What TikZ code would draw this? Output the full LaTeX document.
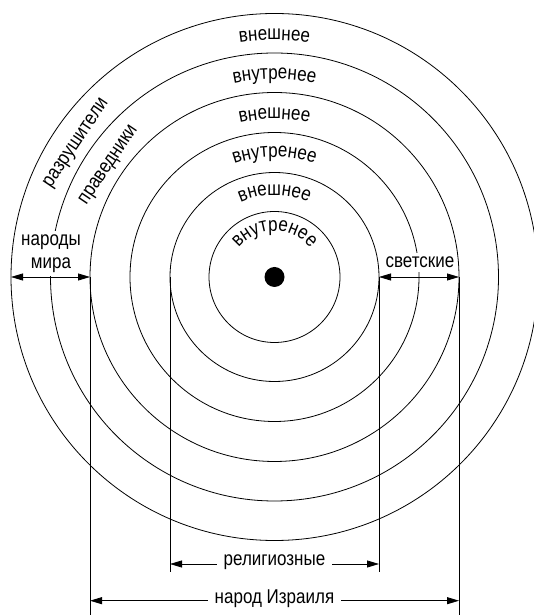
\documentclass[tikz,border=0pt]{standalone}
\usepackage{fontspec}
\setmainfont{Liberation Sans}[FakeStretch=0.85]
\usetikzlibrary{arrows.meta,decorations.text,calc}
\newcommand\lblfont{\fontsize{20}{23}\selectfont}
\begin{document}
\begin{tikzpicture}[x=1pt,y=1pt,
  ring/.style={draw=black,line width=0.8pt},
  lbl/.style={font=\lblfont, inner sep=0pt},
  dimline/.style={line width=0.8pt},
  dimarrow/.style={line width=0.8pt,{Triangle[length=12pt,width=7pt]}-{Triangle[length=12pt,width=7pt]}},
  arclabel/.style={decorate,decoration={text along path,text align=center,text={|\lblfont|#1}}}
]
\useasboundingbox (0,0) rectangle (534,615);
\clip (0,0) rectangle (534,615);
\coordinate (C) at (274.5,338);
% circles
\foreach \r in {65.5,104.5,144.5,184.5,224,263.5}
  \draw[ring] (C) circle[radius=\r];
\fill (C) circle[radius=10];
% arc labels
\path[arclabel={внешнее}]   ($(C)+(180:237)$) arc[start angle=180,end angle=0,radius=237];
\path[arclabel={внутренее}] ($(C)+(180:198)$) arc[start angle=180,end angle=0,radius=198];
\path[arclabel={внешнее}]   ($(C)+(180:158)$) arc[start angle=180,end angle=0,radius=158];
\path[arclabel={внутренее}] ($(C)+(180:120)$) arc[start angle=180,end angle=0,radius=120];
\path[arclabel={внешнее}]   ($(C)+(180:82)$) arc[start angle=180,end angle=0,radius=82];
\path[arclabel={внутренее}] ($(C)+(180:46)$) arc[start angle=180,end angle=0,radius=46];
% rotated labels
\node[lbl,anchor=base,rotate=56] (razr) at ($(C)+(146:235)$) {разрушители};
\node[lbl,anchor=base,rotate=56] (prav) at ($(C)+(146:196)$) {праведники};
% key points
\coordinate (OL) at ($(C)+(-263.5,0)$);
\coordinate (c4L) at ($(C)+(-184.5,0)$);
\coordinate (c4R) at ($(C)+(184.5,0)$);
\coordinate (c2L) at ($(C)+(-104.5,0)$);
\coordinate (c2R) at ($(C)+(104.5,0)$);
\coordinate (relY) at (0,51);
\coordinate (relB) at (0,43.3);
\coordinate (isrY) at (0,14.3);
\coordinate (isrB) at (0,0);
% side labels with white background
\node[lbl,fill=white,inner xsep=2pt,inner ysep=4pt,align=center] (narody) at (51,361.5) {народы\\мира};
\node[lbl,fill=white,inner xsep=1pt,inner ysep=4pt,anchor=base] (svet) at (420,347) {светские};
% side arrows
\draw[dimarrow] (OL) -- (c4L);
\draw[dimarrow] (c2R) -- (c4R);
% vertical lines
\draw[dimline] (c2L) -- (c2L |- relB);
\draw[dimline] (c2R) -- (c2R |- relB);
\draw[dimline] (c4L) -- (c4L |- isrB);
\draw[dimline] (c4R) -- (c4R |- isrB);
% bottom arrows
\draw[dimarrow] (c2L |- relY) -- (c2R |- relY);
\node[lbl,fill=white,inner xsep=7pt,inner ysep=2pt,anchor=base] (rel) at (274.5,49) {религиозные};
\draw[dimarrow] (c4L |- isrY) -- (c4R |- isrY);
\node[lbl,fill=white,inner xsep=7pt,inner ysep=2pt,anchor=base] (isr) at (274.5,11) {народ Израиля};
\end{tikzpicture}
\end{document}
